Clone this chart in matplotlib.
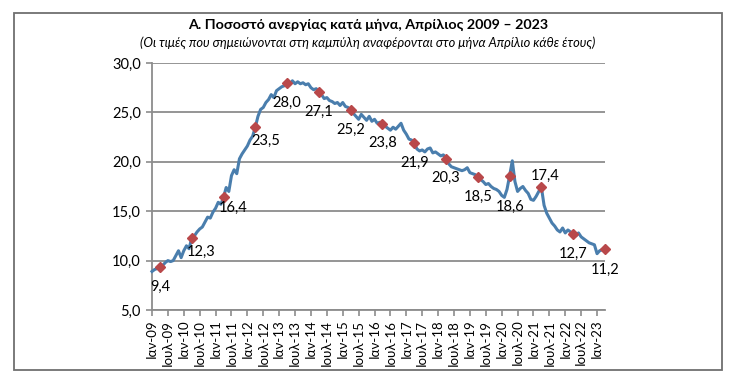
import matplotlib
matplotlib.use("Agg")
import matplotlib.pyplot as plt
from matplotlib.patches import Rectangle

plt.rcParams['font.family'] = ['Lato', 'DejaVu Sans']

# Monthly unemployment rate, Jan 2009 - Apr 2023
rate_2009 = [8.9, 9.1, 9.2, 9.4, 9.5, 9.8, 10.0, 9.9, 10.0, 10.5, 11.0, 10.3]
rate_2010 = [11.0, 11.5, 11.2, 12.3, 12.5, 12.9, 13.2, 13.4, 13.9, 14.4, 14.3, 14.9]
rate_2011 = [15.3, 15.9, 15.7, 16.4, 17.4, 17.0, 18.6, 19.2, 18.8, 20.3, 20.8, 21.2]
rate_2012 = [21.6, 22.2, 22.6, 23.5, 24.6, 25.3, 25.5, 26.0, 26.3, 26.8, 26.5, 27.2]
rate_2013 = [27.4, 27.6, 27.7, 28.0, 27.8, 28.2, 27.9, 28.1, 27.9, 28.0, 27.8, 27.9]
rate_2014 = [27.5, 27.3, 27.4, 27.1, 26.8, 26.4, 26.5, 26.2, 26.1, 25.9, 26.0, 25.7]
rate_2015 = [26.0, 25.6, 25.5, 25.2, 24.9, 24.6, 24.3, 24.8, 24.5, 24.2, 24.6, 24.1]
rate_2016 = [24.3, 23.9, 24.0, 23.8, 23.6, 23.4, 23.2, 23.5, 23.3, 23.6, 23.9, 23.2]
rate_2017 = [22.8, 22.3, 22.2, 21.9, 21.3, 21.1, 21.2, 21.0, 21.3, 21.4, 20.9, 21.0]
rate_2018 = [20.8, 20.6, 20.7, 20.3, 19.8, 19.5, 19.4, 19.3, 19.2, 19.1, 19.2, 19.4]
rate_2019 = [18.9, 18.8, 18.7, 18.5, 18.2, 18.0, 17.7, 17.8, 17.5, 17.3, 17.2, 17.0]
rate_2020 = [16.6, 16.4, 17.2, 18.6, 20.1, 18.0, 17.0, 17.3, 17.5, 17.1, 16.8, 16.2]
rate_2021 = [16.1, 16.5, 17.0, 17.4, 15.6, 14.8, 14.3, 13.8, 13.5, 13.1, 12.9, 13.3]
rate_2022 = [12.8, 13.1, 12.9, 12.7, 12.5, 12.8, 12.4, 12.2, 12.0, 11.8, 11.7, 11.6]
rate_2023 = [10.7, 11.0, 11.1, 11.2]

# April values labelled on the curve
april_labels = [9.4, 12.3, 16.4, 23.5, 28.0, 27.1, 25.2, 23.8, 21.9, 20.3, 18.5, 18.6, 17.4, 12.7, 11.2]
years = list(range(2009, 2024))

month_names = ["Ιαν", "Ιουλ"]
tick_labels = [f"{month_names[i % 2]}-{(9 + i // 2):02d}" for i in range(29)]

title = "Α. Ποσοστό ανεργίας κατά μήνα, Απρίλιος 2009 – 2023"
subtitle = "(Οι τιμές που σημειώνονται στη καμπύλη αναφέρονται στο μήνα Απρίλιο κάθε έτους)"

values = (rate_2009 + rate_2010 + rate_2011 + rate_2012 + rate_2013 + rate_2014 + rate_2015
          + rate_2016 + rate_2017 + rate_2018 + rate_2019 + rate_2020 + rate_2021 + rate_2022 + rate_2023)
x = list(range(len(values)))
april_x = [(y - 2009) * 12 + 3 for y in years]

W, H = 731, 373
fig = plt.figure(figsize=(W / 100, H / 100), dpi=100)

# outer frame
fig.patches.append(Rectangle((13.5 / W, (H - 370) / H), (722 - 13.5) / W, (370 - 12.5) / H,
                             transform=fig.transFigure, fill=False, edgecolor='#6f6f6f',
                             linewidth=1.3))

fig.text(368 / W, 1 - 25 / H, title, ha='center', va='center', fontsize=10.3, fontweight='bold')
fig.text(368 / W, 1 - 42.5 / H, subtitle, ha='center', va='center', fontsize=9.3, style='italic')

ax = fig.add_axes([152 / W, (H - 310) / H, (605 - 152) / W, (310 - 63) / H])
ax.set_xlim(0, len(values) - 1)
ax.set_ylim(5, 30)
ax.set_yticks([5, 10, 15, 20, 25, 30])
ax.set_yticklabels([f"{v:.1f}".replace('.', ',') for v in [5, 10, 15, 20, 25, 30]], fontsize=10.5)
ax.set_xticks(list(range(0, 169, 6)))
ax.set_xticklabels(tick_labels, rotation=90, fontsize=9.5)
ax.grid(axis='y', color='#8c8c8c', linewidth=1.3)
ax.set_axisbelow(True)
for s in ['top', 'right']:
    ax.spines[s].set_visible(False)
for s in ['left', 'bottom']:
    ax.spines[s].set_color('#8c8c8c')
    ax.spines[s].set_linewidth(1.3)
ax.tick_params(axis='both', colors='#8c8c8c', labelcolor='black', length=4.5, width=1.2)
ax.tick_params(axis='x', pad=2.5)

ax.plot(x, values, color='#4a7ead', linewidth=2.2, solid_joinstyle='round', zorder=3, clip_on=False)
ax.plot(april_x, [values[i] for i in april_x], linestyle='none', marker='D', markersize=5.2,
        color='#b9484a', zorder=4, clip_on=False)

offsets = [(0, -20), (9, -14), (10, -11), (10, -14), (0, -20), (0, -20), (0, -19), (0, -19),
           (0, -20), (0, -19), (0, -20), (0, -31), (4, 12), (0, -20), (0, -21)]
for xi, lab, (dx, dy) in zip(april_x, april_labels, offsets):
    ax.annotate(f"{lab:.1f}".replace('.', ','), (xi, values[xi]), xytext=(dx, dy),
                textcoords='offset pixels', ha='center', va='center', fontsize=10.5, zorder=5)

fig.savefig("out.png", dpi=100)
